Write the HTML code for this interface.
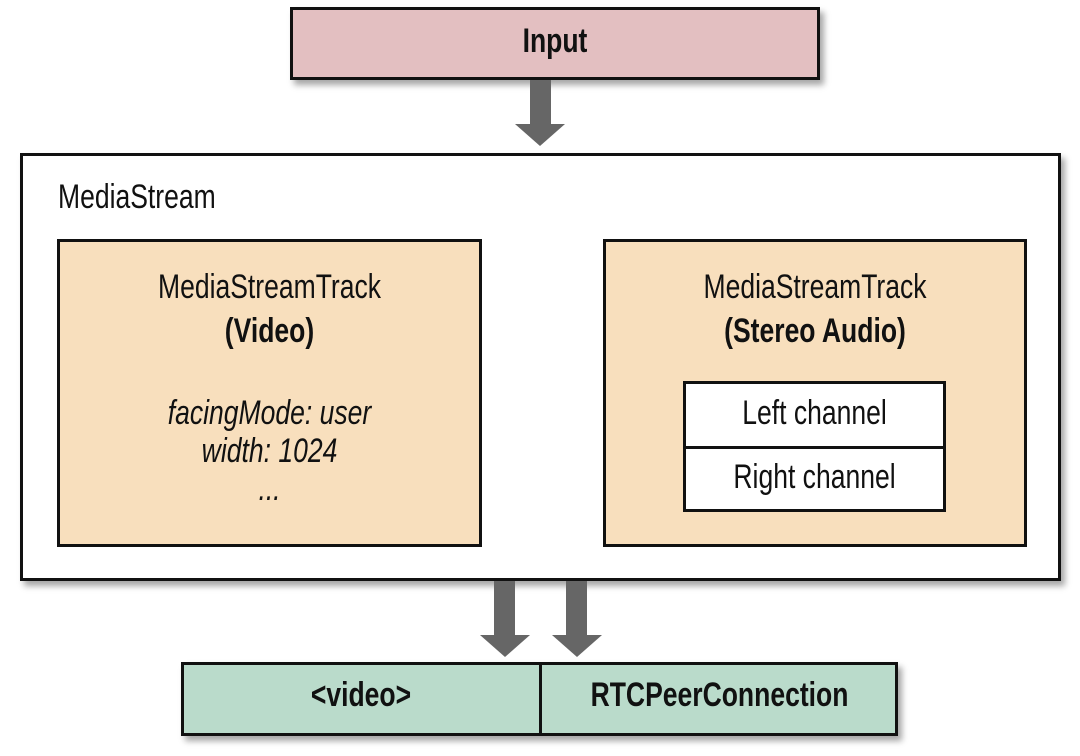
<!DOCTYPE html>
<html><head><style>
body{margin:0;width:1080px;height:756px;background:#fff;position:relative;overflow:hidden;font-family:"Liberation Sans",sans-serif;color:#111}
.b{position:absolute;box-sizing:border-box;border:3px solid #111;box-shadow:4px 5px 6px rgba(0,0,0,0.35)}
.t{position:absolute;text-align:center;font-size:34px;white-space:nowrap;transform:scaleX(0.78);transform-origin:center}
.sh{position:absolute;background:#666}
.hd{position:absolute;width:0;height:0;border-left:25px solid transparent;border-right:25px solid transparent;border-top:22px solid #666}
</style></head><body>
<div class="b" style="left:290px;top:7px;width:530px;height:73px;background:#e3bfc1"></div>
<div class="t" style="left:290px;width:530px;top:22px;font-weight:bold">Input</div>
<div class="sh" style="left:530px;top:80px;width:21px;height:45px"></div>
<div class="hd" style="left:515px;top:124px"></div>

<div class="b" style="left:20px;top:153px;width:1041px;height:428px;background:#fff"></div>
<div class="t" style="left:58px;top:178px;text-align:left;transform-origin:left">MediaStream</div>

<div class="b" style="left:57px;top:239px;width:425px;height:308px;background:#f8dfbd;box-shadow:none"></div>
<div class="t" style="left:57px;width:425px;top:265px;line-height:44px">MediaStreamTrack<br><b>(Video)</b></div>
<div class="t" style="left:57px;width:425px;top:394px;line-height:38px;font-style:italic">facingMode: user<br>width: 1024<br>...</div>

<div class="b" style="left:603px;top:239px;width:424px;height:308px;background:#f8dfbd;box-shadow:none"></div>
<div class="t" style="left:603px;width:424px;top:265px;line-height:44px">MediaStreamTrack<br><b>(Stereo Audio)</b></div>
<div class="b" style="left:683px;top:381px;width:263px;height:68px;background:#fff;box-shadow:none"></div>
<div class="b" style="left:683px;top:446px;width:263px;height:66px;background:#fff;box-shadow:none"></div>
<div class="t" style="left:683px;width:263px;top:394px">Left channel</div>
<div class="t" style="left:683px;width:263px;top:458px">Right channel</div>

<div class="sh" style="left:494px;top:581px;width:21px;height:55px"></div>
<div class="hd" style="left:480px;top:635px"></div>
<div class="sh" style="left:566px;top:581px;width:21px;height:55px"></div>
<div class="hd" style="left:552px;top:635px"></div>

<div class="b" style="left:181px;top:662px;width:717px;height:74px;background:#badbcb"></div>
<div class="sh" style="left:539px;top:662px;width:3px;height:74px;background:#111"></div>
<div class="t" style="left:181px;width:360px;top:676px;font-weight:bold">&lt;video&gt;</div>
<div class="t" style="left:541px;width:357px;top:676px;font-weight:bold">RTCPeerConnection</div>
</body></html>
